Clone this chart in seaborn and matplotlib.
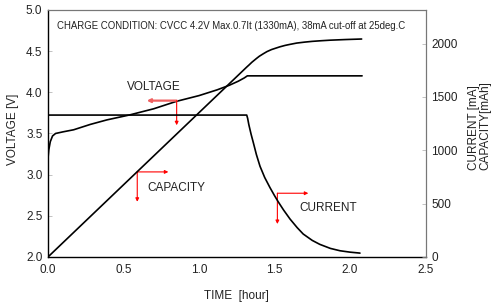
import numpy as np
import pandas as pd
import matplotlib
matplotlib.use("Agg")
import matplotlib.pyplot as plt
import seaborn as sns

# ============ DATA ============
volt_time = [0.0, 0.005, 0.015, 0.03, 0.05, 0.10, 0.17, 0.28, 0.39, 0.54, 0.70, 0.85,
             1.00, 1.12, 1.20, 1.26, 1.30, 1.32, 1.50, 1.80, 2.08]
volt_v = [3.20, 3.30, 3.40, 3.47, 3.50, 3.52, 3.545, 3.61, 3.665, 3.725, 3.80, 3.89,
          3.96, 4.03, 4.085, 4.135, 4.175, 4.20, 4.20, 4.20, 4.20]

curr_time = [0.0, 1.316, 1.322, 1.33, 1.345, 1.36, 1.38, 1.404, 1.435, 1.47, 1.50,
             1.525, 1.56, 1.603, 1.65, 1.69, 1.75, 1.80, 1.87, 1.934, 2.00, 2.066]
curr_ma = [1330, 1330, 1300, 1240, 1150, 1070, 960, 850, 745, 650, 575,
           516, 440, 355, 275, 215, 155, 118, 80, 58, 45, 36]

cap_time = [0.0, 1.316, 1.33, 1.35, 1.38, 1.40, 1.426, 1.45, 1.48, 1.51, 1.536, 1.57,
            1.60, 1.647, 1.70, 1.75, 1.81, 1.868, 1.97, 2.077]
cap_mah = [0, 1780, 1798, 1825, 1860, 1882, 1905, 1925, 1944, 1958, 1970, 1983,
           1992, 2005, 2014, 2021, 2027, 2032, 2038, 2043]

x_ticks = [0.0, 0.5, 1.0, 1.5, 2.0, 2.5]
v_ticks = [2.0, 2.5, 3.0, 3.5, 4.0, 4.5, 5.0]
ma_ticks = [0, 500, 1000, 1500, 2000]

title_text = "CHARGE CONDITION: CVCC 4.2V Max.0.7It (1330mA), 38mA cut-off at 25deg.C"

volt_df = pd.DataFrame({"time": volt_time, "v": volt_v})
curr_df = pd.DataFrame({"time": curr_time, "ma": curr_ma})
cap_df = pd.DataFrame({"time": cap_time, "mah": cap_mah})

# ============ STYLE ============
sns.set_style("white")
plt.rcParams["font.family"] = ["Liberation Sans", "DejaVu Sans"]

fig = plt.figure(figsize=(4.95, 3.03), dpi=100)
ax = fig.add_axes([0.097, 0.152, 0.7626, 0.815])
ax2 = ax.twinx()

sns.lineplot(data=volt_df, x="time", y="v", ax=ax, color="black", lw=1.2)
sns.lineplot(data=curr_df, x="time", y="ma", ax=ax2, color="black", lw=1.2)
sns.lineplot(data=cap_df, x="time", y="mah", ax=ax2, color="black", lw=1.2)

ax.set_xlim(0, 2.5)
ax.set_ylim(2.0, 5.0)
ax2.set_ylim(0, 2315)
ax.set_xticks(x_ticks)
ax.set_xticklabels([f"{t:.1f}" for t in x_ticks])
ax.set_yticks(v_ticks)
ax.set_yticklabels([f"{v:.1f}" for v in v_ticks])
ax2.set_yticks(ma_ticks)
ax2.set_yticklabels([str(m) for m in ma_ticks])

for a in (ax, ax2):
    a.tick_params(direction="in", length=3, width=0.5, color="#aaaaaa",
                  labelsize=8.5, pad=4, labelcolor="#222222")
ax.tick_params(axis="x", pad=5)

ax.set_xlabel("TIME  [hour]", fontsize=8.5, color="#222222")
ax.set_ylabel("VOLTAGE [V]", fontsize=8.5, color="#222222")
ax2.set_ylabel("CURRENT [mA]\nCAPACITY[mAh]", fontsize=8.5, color="#222222",
               multialignment="left", linespacing=0.95)
ax.xaxis.set_label_coords(0.5, -0.135)
ax.yaxis.set_label_coords(-0.077, 0.518)
ax2.yaxis.set_label_coords(1.113, 0.534)

for name in ("left", "bottom"):
    ax.spines[name].set_color("black")
    ax.spines[name].set_linewidth(1.0)
for a in (ax, ax2):
    a.spines["top"].set_color("#777777")
    a.spines["top"].set_linewidth(0.8)
    a.spines["right"].set_color("#777777")
    a.spines["right"].set_linewidth(0.8)
ax2.spines["left"].set_visible(False)
ax2.spines["bottom"].set_visible(False)

ax.text(0.06, 4.8, title_text, fontsize=6.95, color="#222222", va="center", ha="left")

# ============ ANNOTATIONS ============
arrow_kw = dict(arrowstyle="-|>", color="red", lw=0.8, mutation_scale=5,
                shrinkA=0, shrinkB=0)

# voltage -> left axis
ax.annotate("", xy=(0.654, 3.899), xytext=(0.852, 3.899),
            arrowprops=dict(arrow_kw, lw=1.6, color="#f06060"))
ax.annotate("", xy=(0.852, 3.60), xytext=(0.852, 3.899), arrowprops=arrow_kw)
ax.text(0.52, 4.07, "VOLTAGE", fontsize=8.5, color="#222222", va="center")

# capacity -> right axis
ax.annotate("", xy=(0.797, 3.033), xytext=(0.591, 3.033), arrowprops=arrow_kw)
ax.annotate("", xy=(0.591, 2.67), xytext=(0.591, 3.033), arrowprops=arrow_kw)
ax.text(0.655, 2.84, "CAPACITY", fontsize=8.5, color="#222222", va="center")

# current -> right axis
ax.annotate("", xy=(1.724, 2.774), xytext=(1.519, 2.774), arrowprops=arrow_kw)
ax.annotate("", xy=(1.519, 2.40), xytext=(1.519, 2.774), arrowprops=arrow_kw)
ax.text(1.665, 2.60, "CURRENT", fontsize=8.5, color="#222222", va="center")

fig.savefig("out.png", dpi=100)
